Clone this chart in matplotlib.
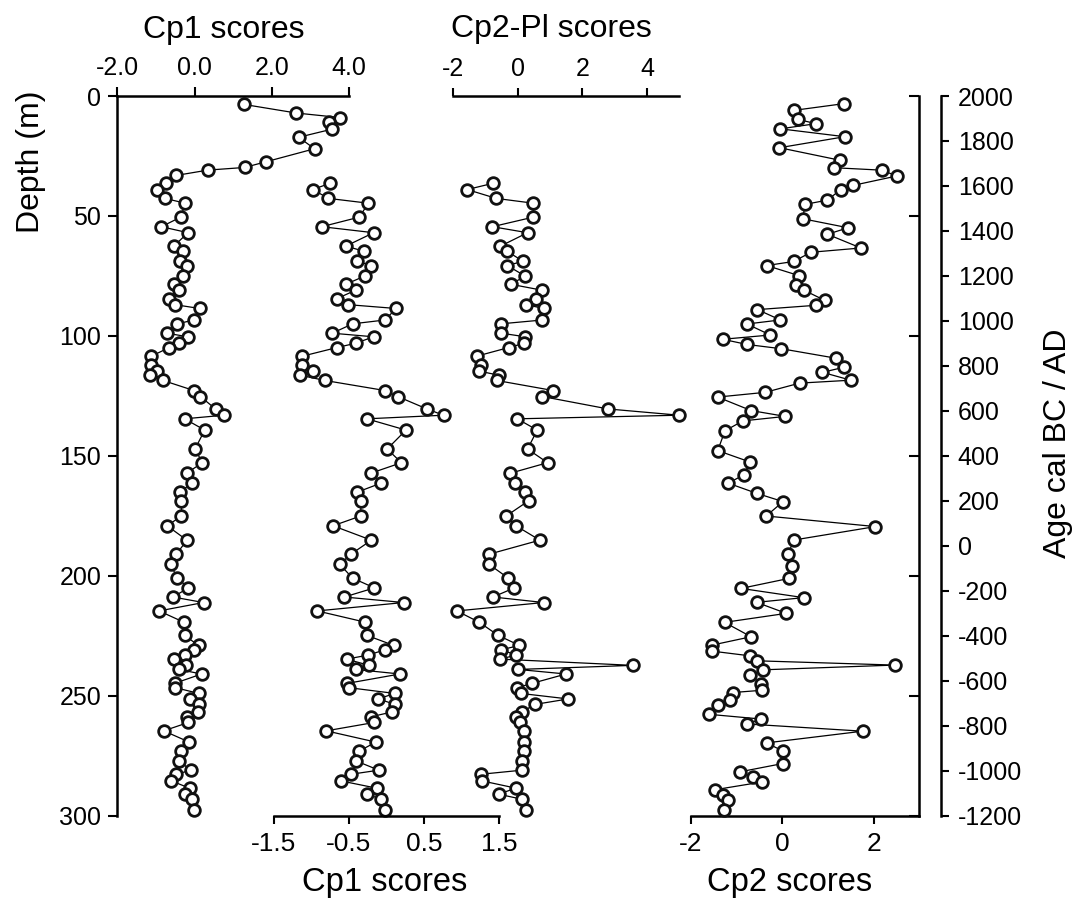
import numpy as np
import matplotlib
matplotlib.use("Agg")
import matplotlib.pyplot as plt

plt.rcParams['font.family'] = ['Liberation Sans', 'DejaVu Sans']
plt.rcParams['axes.unicode_minus'] = False

# ---- data ----
# top of the Cp1 record (only shown on the wide -2..4 scale)
depth_top = [3.5, 7.1, 9.0, 10.8, 13.8, 17.2, 22.0, 27.4, 29.8, 30.9, 33.1]
cp1_top = [1.27, 2.63, 3.77, 3.47, 3.56, 2.69, 3.10, 1.85, 1.29, 0.34, -0.47]

# common sample depths (m) for Cp1 and Cp2-Pl
depth = [36.4, 39.0, 42.7, 44.7, 50.5, 54.5, 57.0, 62.6, 64.7, 68.9,
         70.7, 75.1, 78.5, 81.0, 84.5, 87.0, 88.6, 93.4, 95.0, 98.9,
         100.4, 103.1, 104.9, 108.5, 112.2, 114.7, 116.4, 118.6, 122.8, 125.3,
         130.5, 133.1, 134.6, 139.3, 147.2, 152.9, 157.3, 161.4, 165.2, 168.8,
         175.1, 179.2, 185.2, 191.0, 195.3, 201.0, 205.1, 208.9, 211.2, 214.7,
         219.4, 224.9, 229.1, 230.9, 233.1, 234.8, 237.4, 239.1, 241.0, 244.9,
         246.7, 249.1, 251.4, 253.7, 256.8, 258.8, 261.2, 264.7, 269.4, 273.1,
         277.3, 281.1, 282.8, 285.6, 288.6, 291.1, 293.2, 297.5]

cp1 = [-0.75, -0.98, -0.77, -0.24, -0.36, -0.86, -0.17, -0.54, -0.30, -0.39,
       -0.20, -0.29, -0.54, -0.41, -0.66, -0.51, 0.13, -0.02, -0.45, -0.72,
       -0.17, -0.41, -0.66, -1.12, -1.12, -0.98, -1.15, -0.82, -0.02, 0.15,
       0.54, 0.76, -0.26, 0.26, 0.01, 0.20, -0.21, -0.07, -0.39, -0.34,
       -0.34, -0.71, -0.20, -0.47, -0.62, -0.45, -0.16, -0.56, 0.23, -0.92,
       -0.28, -0.26, 0.10, -0.02, -0.24, -0.53, -0.23, -0.41, 0.18, -0.52,
       -0.50, 0.11, -0.11, 0.12, 0.08, -0.20, -0.16, -0.80, -0.14, -0.36,
       -0.40, -0.10, -0.47, -0.60, -0.13, -0.26, -0.07, -0.02]

cp2pl = [-0.77, -1.57, -0.67, 0.48, 0.48, -0.79, 0.30, -0.54, -0.34, 0.16,
         -0.33, 0.23, -0.22, 0.76, 0.57, 0.26, 0.80, 0.76, -0.53, -0.51,
         0.23, 0.20, -0.29, -1.28, -1.13, -1.20, -0.60, -0.66, 1.09, 0.76,
         2.80, 5.00, -0.02, 0.60, 0.30, 0.92, -0.24, -0.09, 0.22, 0.33,
         -0.36, -0.06, 0.68, -0.88, -0.89, -0.30, -0.11, -0.77, 0.80, -1.89,
         -1.20, -0.61, 0.05, -0.52, -0.05, -0.55, 3.56, 0.01, 1.49, 0.44,
         -0.02, 0.09, 1.56, 0.52, 0.13, -0.06, 0.08, 0.20, 0.20, 0.20,
         0.13, 0.13, -1.14, -1.10, -0.06, -0.60, 0.12, 0.25]

# Cp2 record on the age scale (cal BC / AD)
age = [1966, 1936, 1896, 1877, 1854, 1819, 1770, 1714, 1681, 1670,
       1644, 1602, 1584, 1537, 1518, 1454, 1414, 1385, 1324, 1305,
       1264, 1246, 1201, 1161, 1136, 1091, 1069, 1050, 1004, 986,
       937, 918, 895, 876, 834, 794, 771, 736, 723, 682,
       661, 601, 575, 555, 511, 423, 372, 315, 278, 233,
       196, 132, 85, 25, -39, -89, -145, -190, -231, -252,
       -301, -341, -405, -442, -469, -490, -512, -531, -552, -576,
       -613, -643, -653, -687, -707, -750, -771, -793, -825, -877,
       -913, -969, -1006, -1029, -1051, -1085, -1107, -1133, -1174]

cp2 = [1.35, 0.25, 0.34, 0.74, -0.04, 1.37, -0.06, 1.27, 1.14, 2.19,
       2.50, 1.54, 1.28, 0.99, 0.50, 0.45, 1.44, 0.99, 1.72, 0.63,
       0.25, -0.34, 0.37, 0.31, 0.48, 0.93, 0.73, -0.54, -0.04, -0.77,
       -0.26, -1.30, -0.77, -0.02, 1.17, 1.36, 0.88, 1.50, 0.38, -0.37,
       -1.41, -0.68, 0.07, -0.86, -1.25, -1.41, -0.70, -0.84, -1.18, -0.56,
       0.02, -0.35, 2.04, 0.25, 0.13, 0.22, 0.16, -0.90, 0.47, -0.56,
       0.09, -1.26, -0.68, -1.53, -1.53, -0.70, -0.55, 2.46, -0.41, -0.71,
       -0.46, -0.44, -1.07, -1.13, -1.41, -1.60, -0.46, -0.77, 1.76, -0.34,
       0.01, 0.01, -0.93, -0.64, -0.44, -1.46, -1.29, -1.19, -1.28]

depth_ticks = list(range(0, 301, 50))
age_ticks = list(range(-1200, 2001, 200))

# ---- figure ----
W, H = 1078, 916
fig = plt.figure(figsize=(W / 100, H / 100), dpi=100)

mk = dict(color='black', lw=0.9, marker='o', ms=8.4, mfc='white',
          mec='#111111', mew=2.0, clip_on=False)
SPW = 1.8
TICK = 18
BTICK = 19


def px_axes(x0, x1, y0=96, y1=815.5):
    ax = fig.add_axes([x0 / W, 1 - y1 / H, (x1 - x0) / W, (y1 - y0) / H])
    ax.patch.set_visible(False)
    for s in ax.spines.values():
        s.set_visible(False)
        s.set_linewidth(SPW)
    return ax


# Cp1, wide scale, with depth axis
axA = px_axes(117.3, 349.3)
axA.plot(cp1_top + cp1, depth_top + depth, **mk)
axA.set_xlim(-2, 4)
axA.set_ylim(300, 0)
axA.spines['left'].set_visible(True)
axA.spines['top'].set_visible(True)
axA.xaxis.tick_top()
axA.set_xticks([-2, 0, 2, 4], ['-2.0', '0.0', '2.0', '4.0'])
axA.set_yticks(depth_ticks)
axA.tick_params(direction='out', length=6.5, width=1.5, labelsize=TICK, pad=5)

# Cp1, expanded scale
axB = px_axes(273.6, 499.2)
axB.plot(cp1, depth, **mk)
axB.set_xlim(-1.5, 1.5)
axB.set_ylim(300, 0)
axB.spines['bottom'].set_visible(True)
axB.set_yticks([])
axB.set_xticks([-1.5, -0.5, 0.5, 1.5], ['-1.5', '-0.5', '0.5', '1.5'])
axB.tick_params(direction='out', length=6, width=1.5, labelsize=BTICK, pad=6)

# Cp2-Pl
axC = px_axes(453.3, 679.3)
axC.plot(cp2pl, depth, **mk)
axC.set_xlim(-2, 5)
axC.set_ylim(300, 0)
axC.spines['top'].set_visible(True)
axC.xaxis.tick_top()
axC.set_yticks([])
axC.set_xticks([-2, 0, 2, 4])
axC.tick_params(direction='out', length=6, width=1.5, labelsize=TICK, pad=5)

# Cp2 on age scale; right spine of the depth frame plus an outer age axis
axD = px_axes(690.7, 919.4)
axE = axD.twinx()
axD.set_xlim(-2, 3)
axD.set_ylim(300, 0)
axD.spines['bottom'].set_visible(True)
axD.spines['right'].set_visible(True)
axD.yaxis.tick_right()
axD.set_yticks(depth_ticks)
axD.tick_params(axis='y', direction='in', length=7, width=1.5,
                left=False, right=True, labelleft=False, labelright=False)
axD.set_xticks([-2, 0, 2])
axD.tick_params(axis='x', direction='out', length=6, width=1.5,
                labelsize=BTICK, pad=6)

axE.patch.set_visible(False)
for s in axE.spines.values():
    s.set_visible(False)
    s.set_linewidth(SPW)
axE.spines['right'].set_visible(True)
axE.spines['right'].set_position(('outward', 15.6))
axE.plot(cp2, age, **mk)
axE.set_ylim(-1200, 2000)
axE.set_yticks(age_ticks)
axE.tick_params(direction='out', length=6, width=1.5, labelsize=TICK, pad=6)

# axis titles
fig.text(224 / W, 1 - 30 / H, 'Cp1 scores', fontsize=23, ha='center', va='center')
fig.text(551 / W, 1 - 29 / H, 'Cp2-Pl scores', fontsize=23, ha='center', va='center')
fig.text(31 / W, 1 - 162 / H, 'Depth (m)', fontsize=23, rotation=90,
         ha='center', va='center')
fig.text(1058 / W, 1 - 443 / H, 'Age cal BC / AD', fontsize=23, rotation=90,
         ha='center', va='center')
fig.text(385 / W, 1 - 882 / H, 'Cp1 scores', fontsize=23.5,
         ha='center', va='center')
fig.text(790 / W, 1 - 882 / H, 'Cp2 scores', fontsize=23.5,
         ha='center', va='center')

fig.savefig('out.png', dpi=100)
